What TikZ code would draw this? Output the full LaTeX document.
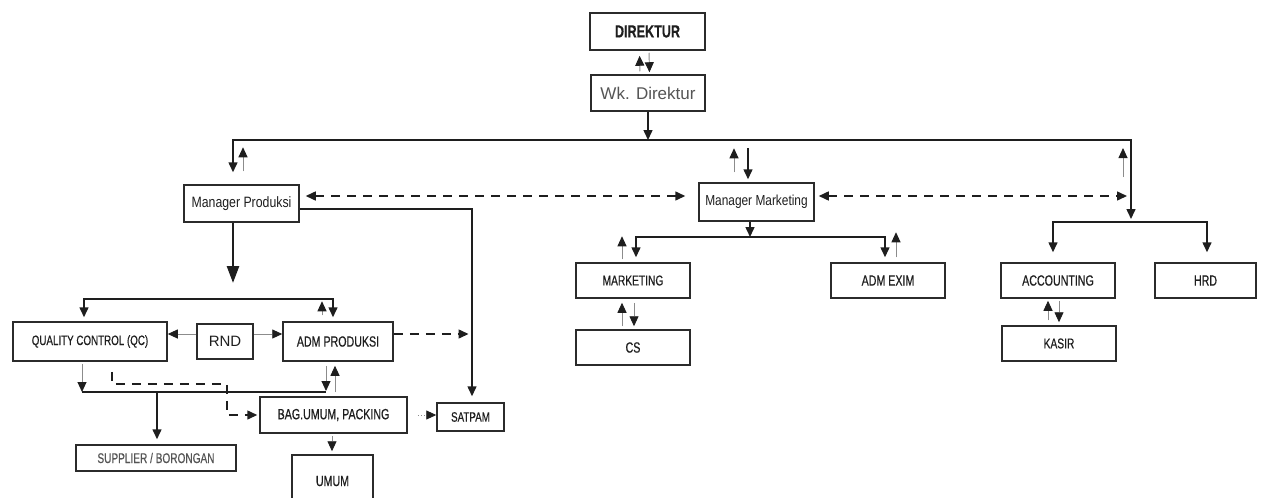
\documentclass[tikz,border=0pt]{standalone}
\usepackage{fontspec}
\setmainfont{Liberation Sans}
\newfontfamily\narrowsf[FakeStretch=0.82]{Liberation Sans}
\newfontfamily\capsf[FakeStretch=0.72,FakeBold=0.5]{Liberation Sans}
\usetikzlibrary{arrows.meta,calc}
\definecolor{ink}{HTML}{1E1E1E}
\definecolor{frame}{HTML}{2B2B2B}
\definecolor{shaft}{HTML}{8C8C8C}
\definecolor{faded}{HTML}{555555}
\tikzset{
  unit/.style={
    draw=frame, line width=1.5pt, fill=white, inner sep=2pt,
    minimum width=114, minimum height=35, text=ink,
    font=\capsf\fontsize{14.8}{16}\selectfont
  },
  line/.style={line width=1.5pt, draw=ink},
  arrow/.style={-{Triangle[length=10pt,width=9pt]}, line width=1.5pt, draw=ink},
  both/.style={{Triangle[length=10pt,width=9pt]}-{Triangle[length=10pt,width=9pt]}, line width=1.5pt, draw=ink},
  bigarr/.style={-{Triangle[length=17pt,width=12pt]}, line width=2.6pt, draw=ink},
  thinarr/.style={-{Triangle[length=10pt,width=9pt,color=ink]}, line width=0.9pt, draw=shaft},
  dasharr/.style={arrow, dash pattern=on 9pt off 7pt},
  dboth/.style={both, dash pattern=on 9pt off 7pt},
  dotarr/.style={thinarr, dash pattern=on 1pt off 2pt}
}
\begin{document}
\begin{tikzpicture}[x=1pt, y=-1pt]
  \useasboundingbox (0,0) rectangle (1264,498);
  \clip (0,0) rectangle (1264,498);
  % top
  \node[unit, minimum width=115, minimum height=37, font=\capsf\bfseries\fontsize{17.5}{19}\selectfont] (dir) at (647.5,31.5) {DIREKTUR};
  \node[unit, minimum width=114, minimum height=36, text=faded, font=\fontsize{17}{19}\selectfont] (wkdir) at (648,93) {Wk. Direktur};
  \node[unit, minimum width=115, minimum height=37, font=\narrowsf\fontsize{15}{17}\selectfont] (mprod) at (241.5,203.5) {Manager Produksi};
  \node[unit, minimum width=115, minimum height=38, font=\narrowsf\fontsize{14.5}{17}\selectfont] (mmkt) at (756.5,202) {Manager Marketing};
  % marketing and finance
  \node[unit, font=\capsf\fontsize{14.2}{16}\selectfont] (mkt) at (633,280.5) {MARKETING};
  \node[unit] (cs) at (633,347.5) {CS};
  \node[unit] (exim) at (888,280.5) {ADM EXIM};
  \node[unit] (acc) at (1058,280.5) {ACCOUNTING};
  \node[unit, minimum width=101] (hrd) at (1205.5,280.5) {HRD};
  \node[unit, font=\capsf\fontsize{14.2}{16}\selectfont] (kasir) at (1059,343.5) {KASIR};
  % produksi
  \node[unit, minimum width=154, minimum height=39, font=\capsf\fontsize{13.6}{15}\selectfont] (qc) at (90,341.5) {QUALITY CONTROL (QC)};
  \node[unit, minimum width=56, font=\fontsize{15}{17}\selectfont] (rnd) at (225,341.5) {RND};
  \node[unit, minimum width=110, minimum height=39] (admprod) at (338,341.5) {ADM PRODUKSI};
  \node[unit, minimum width=147, minimum height=36] (bag) at (333.5,415) {BAG.UMUM, PACKING};
  \node[unit, minimum width=67, minimum height=28, font=\capsf\fontsize{13.6}{15}\selectfont] (satpam) at (470.5,417) {SATPAM};
  \node[unit, minimum width=160, minimum height=26, text=faded, font=\capsf\fontsize{14}{15}\selectfont] (supp) at (156,458) {SUPPLIER / BORONGAN};
  \node[unit, minimum width=81, minimum height=52] (umum) at (332.5,481) {UMUM};

  \coordinate (topL) at (233,140);
  \coordinate (topR) at (1131,140);
  \coordinate (finbus) at (1131,222);
  \coordinate (mktbus) at (750,237);
  \coordinate (prodbus) at (233,299);
  \coordinate (qcbus) at (157,392);
  \coordinate (dashturn) at (227,384);

  % direktur - wakil
  \draw[thinarr, shorten <=3pt, shorten >=5pt] ([xshift=-8pt]wkdir.north) -- ([xshift=-8pt]dir.south);
  \draw[thinarr, shorten <=2pt, shorten >=2pt] ([xshift=1.5pt]dir.south) -- ([xshift=1.5pt]wkdir.north);
  \draw[arrow] (wkdir.south) -- (wkdir.south |- topL);
  \draw[both, shorten <=12pt, shorten >=3pt] (topL |- mprod.north) -- (topL) -- (topR) -- (finbus);
  \draw[thinarr] ([xshift=1.5pt,yshift=13pt]mprod.north) -- ([xshift=1.5pt,yshift=37pt]mprod.north);
  \draw[thinarr] ([xshift=-8pt,yshift=-37pt]topR) -- ([xshift=-8pt,yshift=-8pt]topR);
  \draw[arrow, shorten <=8pt, shorten >=3pt] ([xshift=-8.5pt]mmkt.north |- topL) -- ([xshift=-8.5pt]mmkt.north);
  \draw[thinarr] ([xshift=-22.5pt,yshift=10pt]mmkt.north) -- ([xshift=-22.5pt,yshift=34pt]mmkt.north);

  % koordinasi antar manager
  \draw[dboth, shorten <=6pt, shorten >=13pt] ([yshift=7.5pt]mprod.east) -- ([yshift=7.5pt]mprod.east -| mmkt.west);
  \draw[dboth, shorten <=4pt, shorten >=4pt] ([yshift=6pt]mmkt.east) -- ([yshift=6pt]mmkt.east -| topR);

  % keuangan
  \draw[both, shorten <=10pt, shorten >=10pt] ([xshift=-5pt]acc.north) |- (finbus) -| ([xshift=1.5pt]hrd.north);
  \draw[thinarr, shorten <=5pt, shorten >=2pt] ([xshift=-11pt]kasir.north) -- ([xshift=-11pt]kasir.north |- acc.south);
  \draw[thinarr, shorten <=2pt, shorten >=3pt] ([xshift=1pt]acc.south) -- ([xshift=1pt]acc.south |- kasir.north);

  % marketing
  \draw[arrow] ([xshift=-6.5pt]mmkt.south) -- ([xshift=-6.5pt]mmkt.south |- mktbus);
  \draw[both, shorten <=5pt, shorten >=5pt] ([xshift=3pt]mkt.north) |- (mktbus) -| ([xshift=-3pt]exim.north);
  \draw[thinarr] ([xshift=-11pt,yshift=3pt]mkt.north) -- ([xshift=-11pt,yshift=26pt]mkt.north);
  \draw[thinarr] ([xshift=8pt,yshift=5pt]exim.north) -- ([xshift=8pt,yshift=30pt]exim.north);
  \draw[thinarr, shorten <=3pt, shorten >=4pt] ([xshift=-11pt]cs.north) -- ([xshift=-11pt]mkt.south);
  \draw[thinarr, shorten <=4pt, shorten >=3pt] ([xshift=1pt]mkt.south) -- ([xshift=1pt]cs.north);

  % produksi
  \draw[arrow, shorten >=6pt] ([yshift=-5.5pt]mprod.east) -| ([xshift=1.5pt]satpam.north);
  \draw[bigarr, shorten >=16pt] ([xshift=-8.5pt]mprod.south) -- (prodbus);
  \draw[both, shorten <=4pt, shorten >=4pt] ([xshift=-6pt]qc.north) |- (prodbus) -| ([xshift=-5pt]admprod.north);
  \draw[thinarr] ([xshift=-16pt,yshift=6pt]admprod.north) -- ([xshift=-16pt,yshift=20pt]admprod.north);
  \draw[thinarr] ([yshift=7.5pt]rnd.west) -- ([yshift=7.5pt]rnd.west -| qc.east);
  \draw[thinarr] ([yshift=7.5pt]rnd.east) -- ([yshift=7.5pt]rnd.east -| admprod.west);
  \draw[dasharr, shorten >=2pt] ([yshift=7.5pt]admprod.east) -- ([yshift=7.5pt]admprod.east -| satpam.north);
  \draw[line] ([xshift=-8pt]qc.south |- qcbus) -- ([xshift=-12pt]admprod.south |- qcbus);
  \draw[thinarr, shorten <=2pt] ([xshift=-8pt]qc.south) -- ([xshift=-8pt]qc.south |- qcbus);
  \draw[thinarr, shorten <=4pt, shorten >=1pt] ([xshift=-12pt]admprod.south) -- ([xshift=-12pt]admprod.south |- qcbus);
  \draw[thinarr, shorten >=4pt] ([xshift=-3pt]admprod.south |- qcbus) -- ([xshift=-3pt]admprod.south);
  \draw[arrow, shorten >=5pt] (qcbus) -- (qcbus |- supp.north);
  \draw[dasharr, shorten <=10pt, shorten >=2pt] ([xshift=22pt]qc.south) |- (dashturn) |- (bag.west);
  \draw[dotarr, shorten <=10pt] (bag.east) -- (bag.east -| satpam.west);
  \draw[thinarr, shorten <=2pt, shorten >=3pt] ([xshift=-1.5pt]bag.south) -- ([xshift=-1.5pt]bag.south |- umum.north);
\end{tikzpicture}
\end{document}
